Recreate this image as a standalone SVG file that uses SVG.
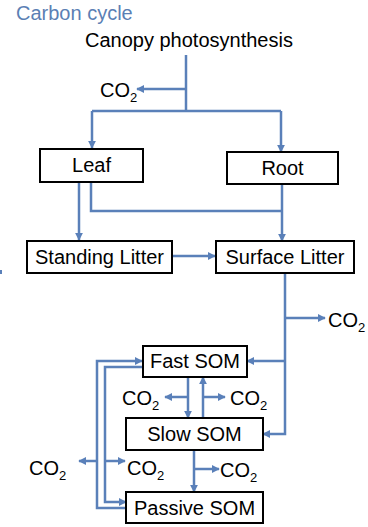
<svg xmlns="http://www.w3.org/2000/svg" width="368" height="527" viewBox="0 0 368 527">
<style>
text{font-family:"Liberation Sans",Arial,sans-serif;font-size:20px;fill:#000}
.t{fill:#5b7fb4}
.box{fill:#fff;stroke:#000;stroke-width:2}
.c{fill:none;stroke:#5a80b9;stroke-width:2.5}
.a{marker-end:url(#ah)}
.sub{font-size:13px}
</style>
<defs>
<marker id="ah" viewBox="0 0 10 10" refX="9" refY="5" markerWidth="3.2" markerHeight="3.2" orient="auto" markerUnits="strokeWidth">
<path d="M0,0 L10,5 L0,10 Z" fill="#5a80b9"/>
</marker>
</defs>
<rect x="0" y="270" width="2" height="4" fill="#5a80b9"/>
<text class="t" x="16" y="20">Carbon cycle</text>
<text x="85" y="47">Canopy photosynthesis</text>
<g id="connectors">
<path class="c" d="M186,55 V111"/>
<path class="c a" d="M186,89 H137"/>
<path class="c" d="M92,111 H281"/>
<path class="c a" d="M92,111 V148"/>
<path class="c a" d="M281,111 V152"/>
<path class="c a" d="M79,182 V240"/>
<path class="c" d="M91,182 V211 H281"/>
<path class="c a" d="M282,184 V241"/>
<path class="c a" d="M172,256 H215"/>
<path class="c a" d="M285,273 V434 H263"/>
<path class="c a" d="M285,361 H247"/>
<path class="c a" d="M285,318 H325"/>
<path class="c a" d="M188,377 V418"/>
<path class="c a" d="M188,397 H165"/>
<path class="c a" d="M203,418 V377"/>
<path class="c a" d="M203,397 H225"/>
<path class="c a" d="M194,450 V492"/>
<path class="c a" d="M194,469 H219"/>
<path class="c a" d="M142,367 H105 V502 H126"/>
<path class="c a" d="M105,461 H125"/>
<path class="c a" d="M126,508 H97 V361 H142"/>
<path class="c a" d="M97,461 H79"/>
</g>
<g id="co2-labels">
<text x="100" y="97">CO<tspan class="sub" dy="5">2</tspan></text>
<text x="328" y="327">CO<tspan class="sub" dy="5">2</tspan></text>
<text x="122" y="405">CO<tspan class="sub" dy="5">2</tspan></text>
<text x="230" y="405">CO<tspan class="sub" dy="5">2</tspan></text>
<text x="29" y="475">CO<tspan class="sub" dy="5">2</tspan></text>
<text x="127" y="475">CO<tspan class="sub" dy="5">2</tspan></text>
<text x="220" y="477">CO<tspan class="sub" dy="5">2</tspan></text>
</g>
<g id="leaf"><rect class="box" x="40" y="149" width="103" height="33"/><text x="91.5" y="172" text-anchor="middle">Leaf</text></g>
<g id="root"><rect class="box" x="227" y="152" width="111" height="32"/><text x="282.5" y="175" text-anchor="middle">Root</text></g>
<g id="standing-litter"><rect class="box" x="27" y="241" width="145" height="32"/><text x="99.5" y="264" text-anchor="middle">Standing Litter</text></g>
<g id="surface-litter"><rect class="box" x="216" y="241" width="138" height="32"/><text x="285" y="264" text-anchor="middle">Surface Litter</text></g>
<g id="fast-som"><rect class="box" x="143" y="346" width="104" height="31"/><text x="195" y="368" text-anchor="middle">Fast SOM</text></g>
<g id="slow-som"><rect class="box" x="126" y="418" width="137" height="32"/><text x="194.5" y="441" text-anchor="middle">Slow SOM</text></g>
<g id="passive-som"><rect class="box" x="126" y="492" width="137" height="31"/><text x="194.5" y="515" text-anchor="middle">Passive SOM</text></g>
</svg>
